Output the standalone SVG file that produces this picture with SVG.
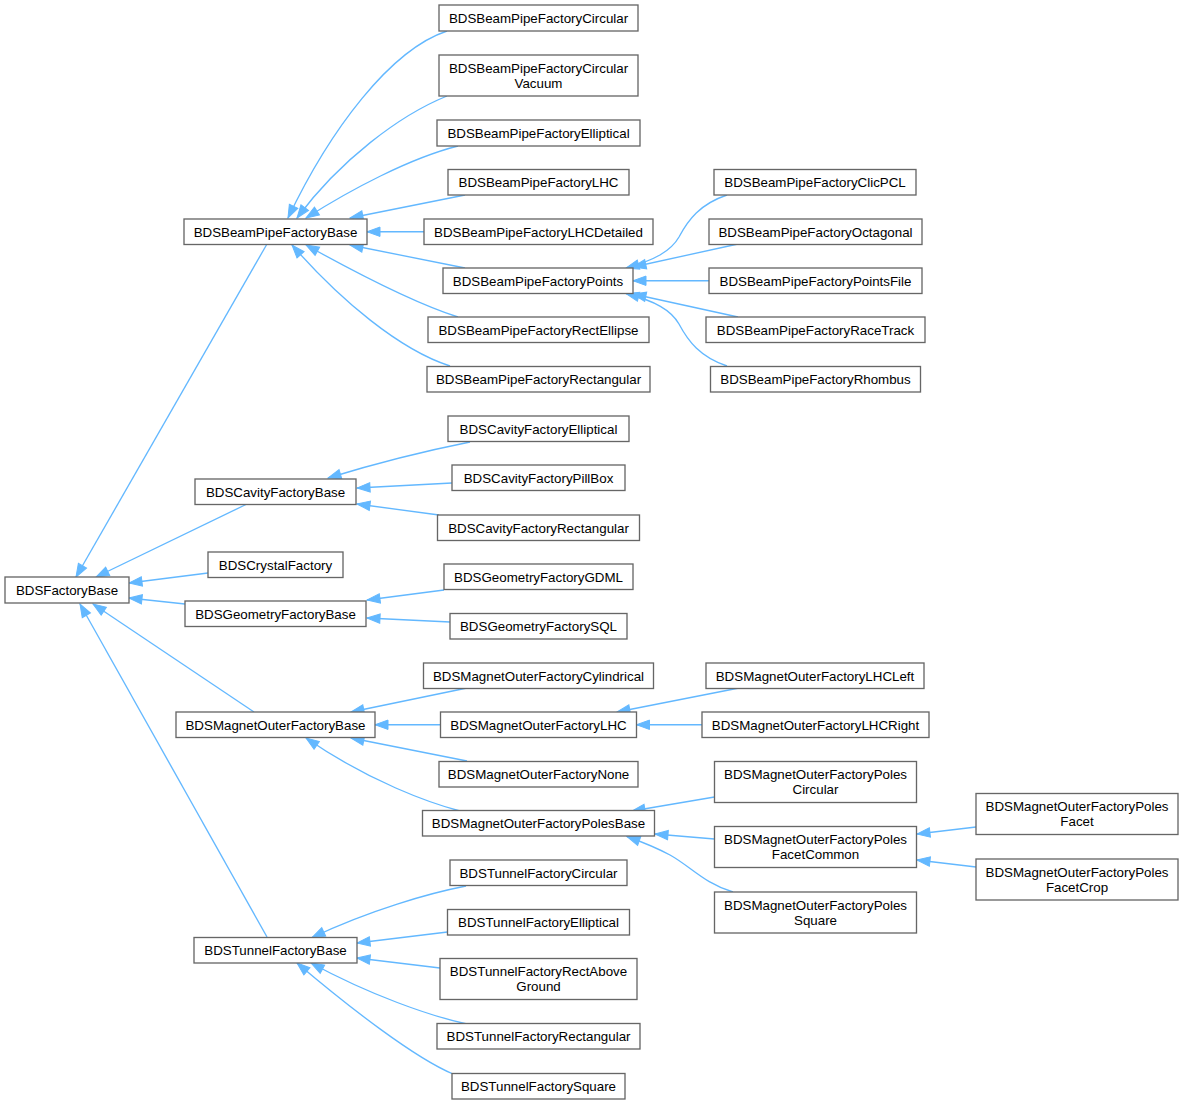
<svg xmlns="http://www.w3.org/2000/svg" width="1183" height="1104" viewBox="0 0 1183 1104">
<style>
.n rect{fill:#ffffff;stroke:#666666;stroke-width:1.33}
.n text{font-family:"Liberation Sans",Arial,Helvetica,sans-serif;font-size:13.33px;fill:#000000;text-anchor:middle}
#edges path{fill:none;stroke:#63b8ff;stroke-width:1.33;marker-end:url(#ah)}
</style>
<defs>
<marker id="ah" viewBox="-14 -6 15 12" refX="0" refY="0" markerWidth="15" markerHeight="12" markerUnits="userSpaceOnUse" orient="auto">
<path d="M0,0 L-13,-4.7 L-13,4.7 Z" fill="#63b8ff" stroke="#63b8ff" stroke-width="1"/>
</marker>
</defs>
<rect width="1183" height="1104" fill="#ffffff"/>
<g id="edges">
<!-- to FactoryBase -->
<path d="M267,244 L76,577"/>
<path d="M247,504 L96,577"/>
<path d="M208,573 L129,583"/>
<path d="M185,604 L129,598"/>
<path d="M254,712 L93,604"/>
<path d="M267,937 L80,604"/>
<!-- to BPBase -->
<path d="M447,31 C390,50 330,130 288,218"/>
<path d="M447,96 C400,115 340,160 297,218"/>
<path d="M458,146 C410,158 350,190 306,218"/>
<path d="M465,195 L350,218"/>
<path d="M424,231.75 L367,231.75"/>
<path d="M465,268 L350,245"/>
<path d="M458,317 C420,305 360,275 306,245"/>
<path d="M450,366 C400,350 340,300 292,245"/>
<!-- to Points -->
<path d="M727,195 C700,204 688,220 679,237 C671,251 655,260 626,268"/>
<path d="M738,244 L633,267"/>
<path d="M709,280.75 L633,280.75"/>
<path d="M738,317 L633,294"/>
<path d="M727,366 C700,357 688,341 679,324 C671,310 655,301 626,293.5"/>
<!-- to CavBase -->
<path d="M470,442 C440,448 380,462 328,478"/>
<path d="M452,483 L357,488"/>
<path d="M439,515 L357,504"/>
<!-- to GeoBase -->
<path d="M444,590 L367,600"/>
<path d="M450,622 L367,618"/>
<!-- to MagBase -->
<path d="M467,688 L351,712"/>
<path d="M440.5,724.75 L375,724.75"/>
<path d="M467,761 L351,738"/>
<path d="M460,811 C430,803 370,782 306,738"/>
<!-- to MagLHC -->
<path d="M739,688 L617,712"/>
<path d="M702,724.75 L636.5,724.75"/>
<!-- to PolesBase -->
<path d="M714.5,797 L632,811"/>
<path d="M714.5,839 L655,834"/>
<path d="M733,892 C705,884 690,866 670,855 C655,847 645,843 627,836.5"/>
<!-- to FacetCommon -->
<path d="M976,827 L917,834"/>
<path d="M976,867 L917,860"/>
<!-- to TunnelBase -->
<path d="M466,886 C430,893 370,910 312,937.5"/>
<path d="M447.5,932 L357,943"/>
<path d="M440,968 L357,958"/>
<path d="M467,1024 C430,1016 370,995 311,963"/>
<path d="M453,1074 C415,1058 350,1008 297,963"/>
</g>
<g id="n0" class="n"><rect x="5" y="577" width="124" height="26"/><text x="67" y="594.7">BDSFactoryBase</text></g>
<g id="n1" class="n"><rect x="184" y="219" width="183" height="25.5"/><text x="275.5" y="236.5">BDSBeamPipeFactoryBase</text></g>
<g id="n2" class="n"><rect x="439" y="5" width="199" height="26"/><text x="538.5" y="22.7">BDSBeamPipeFactoryCircular</text></g>
<g id="n3" class="n"><rect x="439" y="55" width="199" height="41"/><text x="538.5" y="72.5">BDSBeamPipeFactoryCircular</text><text x="538.5" y="87.5">Vacuum</text></g>
<g id="n4" class="n"><rect x="437" y="120" width="203" height="26"/><text x="538.5" y="137.7">BDSBeamPipeFactoryElliptical</text></g>
<g id="n5" class="n"><rect x="448" y="169.5" width="181" height="25.5"/><text x="538.5" y="187">BDSBeamPipeFactoryLHC</text></g>
<g id="n6" class="n"><rect x="424" y="219" width="229" height="25.5"/><text x="538.5" y="236.5">BDSBeamPipeFactoryLHCDetailed</text></g>
<g id="n7" class="n"><rect x="443" y="268" width="190" height="25.5"/><text x="538" y="285.5">BDSBeamPipeFactoryPoints</text></g>
<g id="n8" class="n"><rect x="428" y="317" width="221" height="25.5"/><text x="538.5" y="334.5">BDSBeamPipeFactoryRectEllipse</text></g>
<g id="n9" class="n"><rect x="427" y="366.5" width="223" height="25.5"/><text x="538.5" y="384">BDSBeamPipeFactoryRectangular</text></g>
<g id="n10" class="n"><rect x="714" y="169.5" width="202" height="25.5"/><text x="815" y="187">BDSBeamPipeFactoryClicPCL</text></g>
<g id="n11" class="n"><rect x="709" y="219" width="213" height="25.5"/><text x="815.5" y="236.5">BDSBeamPipeFactoryOctagonal</text></g>
<g id="n12" class="n"><rect x="709" y="268" width="213" height="25.5"/><text x="815.5" y="285.5">BDSBeamPipeFactoryPointsFile</text></g>
<g id="n13" class="n"><rect x="706" y="317" width="219" height="25.5"/><text x="815.5" y="334.5">BDSBeamPipeFactoryRaceTrack</text></g>
<g id="n14" class="n"><rect x="710.5" y="366.5" width="210" height="25.5"/><text x="815.5" y="384">BDSBeamPipeFactoryRhombus</text></g>
<g id="n15" class="n"><rect x="195" y="479" width="161" height="25.5"/><text x="275.5" y="496.5">BDSCavityFactoryBase</text></g>
<g id="n16" class="n"><rect x="448" y="416" width="181" height="25.5"/><text x="538.5" y="433.5">BDSCavityFactoryElliptical</text></g>
<g id="n17" class="n"><rect x="452" y="465" width="173" height="25.5"/><text x="538.5" y="482.5">BDSCavityFactoryPillBox</text></g>
<g id="n18" class="n"><rect x="437.5" y="515" width="202" height="25.5"/><text x="538.5" y="532.5">BDSCavityFactoryRectangular</text></g>
<g id="n19" class="n"><rect x="208" y="552" width="135" height="25.5"/><text x="275.5" y="569.5">BDSCrystalFactory</text></g>
<g id="n20" class="n"><rect x="185" y="601" width="181" height="25.5"/><text x="275.5" y="618.5">BDSGeometryFactoryBase</text></g>
<g id="n21" class="n"><rect x="444" y="564" width="189" height="25.5"/><text x="538.5" y="581.5">BDSGeometryFactoryGDML</text></g>
<g id="n22" class="n"><rect x="450" y="613.5" width="177" height="25.5"/><text x="538.5" y="631">BDSGeometryFactorySQL</text></g>
<g id="n23" class="n"><rect x="176" y="712" width="199" height="25.5"/><text x="275.5" y="729.5">BDSMagnetOuterFactoryBase</text></g>
<g id="n24" class="n"><rect x="423.5" y="663" width="230" height="25.5"/><text x="538.5" y="680.5">BDSMagnetOuterFactoryCylindrical</text></g>
<g id="n25" class="n"><rect x="440.5" y="712" width="196" height="25.5"/><text x="538.5" y="729.5">BDSMagnetOuterFactoryLHC</text></g>
<g id="n26" class="n"><rect x="439" y="761.5" width="199" height="25.5"/><text x="538.5" y="779">BDSMagnetOuterFactoryNone</text></g>
<g id="n27" class="n"><rect x="422.5" y="810.5" width="232" height="25.5"/><text x="538.5" y="828">BDSMagnetOuterFactoryPolesBase</text></g>
<g id="n28" class="n"><rect x="706" y="663" width="218" height="25.5"/><text x="815" y="680.5">BDSMagnetOuterFactoryLHCLeft</text></g>
<g id="n29" class="n"><rect x="702" y="712" width="227" height="25.5"/><text x="815.5" y="729.5">BDSMagnetOuterFactoryLHCRight</text></g>
<g id="n30" class="n"><rect x="714.5" y="761.5" width="202" height="41"/><text x="815.5" y="779">BDSMagnetOuterFactoryPoles</text><text x="815.5" y="794">Circular</text></g>
<g id="n31" class="n"><rect x="714.5" y="826.5" width="202" height="41"/><text x="815.5" y="844">BDSMagnetOuterFactoryPoles</text><text x="815.5" y="859">FacetCommon</text></g>
<g id="n32" class="n"><rect x="714.5" y="892" width="202" height="41"/><text x="815.5" y="909.5">BDSMagnetOuterFactoryPoles</text><text x="815.5" y="924.5">Square</text></g>
<g id="n33" class="n"><rect x="976" y="793.5" width="202" height="41"/><text x="1077" y="811">BDSMagnetOuterFactoryPoles</text><text x="1077" y="826">Facet</text></g>
<g id="n34" class="n"><rect x="976" y="859" width="202" height="41"/><text x="1077" y="876.5">BDSMagnetOuterFactoryPoles</text><text x="1077" y="891.5">FacetCrop</text></g>
<g id="n35" class="n"><rect x="194" y="937.5" width="163" height="25.5"/><text x="275.5" y="955">BDSTunnelFactoryBase</text></g>
<g id="n36" class="n"><rect x="450" y="860" width="177" height="25.5"/><text x="538.5" y="877.5">BDSTunnelFactoryCircular</text></g>
<g id="n37" class="n"><rect x="447.5" y="909.5" width="182" height="25.5"/><text x="538.5" y="927">BDSTunnelFactoryElliptical</text></g>
<g id="n38" class="n"><rect x="440" y="958.5" width="197" height="41"/><text x="538.5" y="976">BDSTunnelFactoryRectAbove</text><text x="538.5" y="991">Ground</text></g>
<g id="n39" class="n"><rect x="437" y="1023.5" width="203" height="25.5"/><text x="538.5" y="1041">BDSTunnelFactoryRectangular</text></g>
<g id="n40" class="n"><rect x="452" y="1073.5" width="173" height="25.5"/><text x="538.5" y="1091">BDSTunnelFactorySquare</text></g>
</svg>
